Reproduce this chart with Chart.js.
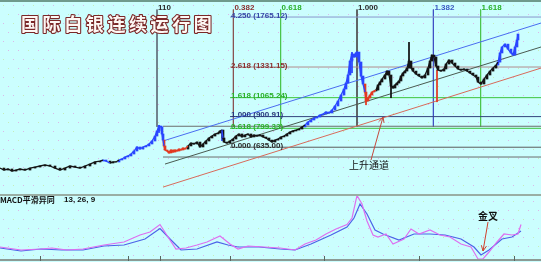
<!doctype html>
<html>
<head>
<meta charset="utf-8">
<title>国际白银连续运行图</title>
<script src="https://cdn.jsdelivr.net/npm/chart.js"></script>
<style>
  body { margin: 0; background: #cbfefe; }
  #wrap { position: relative; width: 541px; height: 262px; overflow: hidden; background: #cbfefe; }
  #main { position: absolute; left: 0; top: 0; }
  #macd { position: absolute; left: 0; top: 196px; }
  .rule { position: absolute; left: 0; width: 541px; }
</style>
</head>
<body>
<div id="wrap">
  <canvas id="main" width="541" height="194"></canvas>
  <div class="rule" style="top:0;height:2px;background:#6f9a8c"></div>
  <div class="rule" style="top:194px;height:2px;background:#9aaea4"></div>
  <canvas id="macd" width="541" height="66"></canvas>
</div>
<script>
// price series (bar index, close)
const barIndex = [0,4,8,12,16,20,25,30,35,40,45,50,55,60,65,70,75,80,85,90,95,100,103,106,110,113,116,119,122,125,128,131,134,137,140,143,146,149,152,155,157,159,161,162,163,164,165,167,169,171,173,175,177,179,181,183,185,188,191,194,197,200,203,206,209,212,215,218,220,222,223,224,227,230,233,236,239,242,245,248,251,254,257,260,263,266,269,272,275,278,281,284,287,290,293,296,299,302,305,308,311,314,317,320,323,326,329,332,335,338,341,344,346,348,350,352,354,356,357,359,361,363,365,366,368,370,372,374,376,378,380,382,385,387,389,391,393,395,397,399,401,403,405,407,409,411,413,416,419,422,425,428,430,432,434,436,438,441,444,446,449,452,455,458,461,464,467,470,473,476,478,481,484,487,490,493,496,498,500,502,505,508,511,513,515,517,518];
const closes = [454,437,446,428,437,446,437,454,463,472,481,472,454,437,454,472,463,454,472,489,507,515,524,515,498,507,507,524,533,550,559,576,602,637,619,637,646,663,689,732,776,819,811,750,697,646,611,602,585,611,593,611,602,619,611,628,619,646,671,663,680,637,663,689,715,732,750,758,776,784,715,680,671,689,706,732,750,724,741,750,724,741,732,741,724,715,697,680,697,706,724,732,750,767,776,784,793,811,828,854,871,888,897,915,923,941,932,958,993,1036,1088,1140,1192,1262,1383,1444,1418,1453,1461,1375,1253,1184,1114,1036,1062,1088,1114,1123,1131,1175,1201,1227,1262,1296,1262,1166,1149,1175,1192,1210,1253,1279,1296,1322,1383,1322,1296,1270,1253,1236,1262,1322,1383,1435,1418,1340,1305,1296,1314,1357,1392,1366,1340,1314,1305,1314,1296,1279,1262,1244,1201,1184,1227,1262,1296,1322,1348,1374,1453,1505,1530,1487,1453,1435,1505,1566,1618,1635];

// long shadows [bar, high, low, colour key]
const wicks = [[159,828,760,'b'],[222,784,690,'b'],[352,1461,1279,'b'],[366,1114,1001,'r'],[409,1548,1366,'k'],[437,1305,1027,'r'],[391,1166,1062,'k']];

// colour of the bars by run: [last bar of run, colour key]
const colourRuns = [[103,'k'],[108,'b'],[118,'k'],[164,'b'],[186,'r'],[221,'k'],[223,'b'],[305,'k'],[365,'b'],[376,'r'],[497,'k'],[541,'b']];
const barColours = { k: '#151515', b: '#2a46ff', r: '#e23a22' };

// fibonacci price levels
const fibRatios = ['4.250','2.618','1.618','1.000','0.618','0.000'];
const fibPrices = [1765.12,1331.15,1065.24,900.91,799.33,635.00];
const fibLineColours = ['#8896cc','#b08c8c','#3cc43c','#34447e','#3cc43c','#5c5c5c'];
const fibTextColours = ['#3646a6','#8a3030','#28b028','#26367e','#28b028','#2c2c2c'];

// fibonacci time zones
const timeStart = 157, timeSpan = 200, startLabel = '110';
const timeRatios = ['0.382','0.618','1.000','1.382','1.618'];
const timeLineColours = ['#64727e','#8a5252','#4cc44c','#505050','#4050c4','#4cc44c'];
const timeTextColours = ['#2c2c2c','#8a3030','#28b028','#2c2c2c','#3a5ac4','#28b028'];

// channel lines [start bar, start price, end bar, end price]
const upperChannel = [163, 689, 541, 1713];
const middleChannel = [165, 489, 541, 1505];
const lowerChannel = [163, 289, 541, 1322];
const boxLevels = [817, 550];

// MACD 13,26,9
const macdX = [0,21,41,52,67,83,104,124,140,150,160,168,176,186,197,207,220,230,238,248,264,280,295,305,316,326,336,347,352,357,362,367,373,378,386,393,404,411,419,430,440,450,461,471,478,483,489,497,504,512,518,521];
const macdLine = [2,-1,0,1,-1,0,4,7,14,17,24.5,12,0,1,4,7,13,5,0,3,2,1,-1,5,9,15,20,24.5,31,53.5,45,28,14,12,15,5,10,20,15,19,14,12,5,2,-10,-10,-3,7,15,14,15,24.5];
const signalX = [0,21,41,62,83,104,124,145,160,171,181,197,217,228,238,259,280,295,311,331,347,354,360,367,375,383,399,414,430,445,461,474,481,489,502,512,521];
const signalLine = [1,-2,0,-1,-1,3,4,10,20.4,9,-1,0,7,4,2,2,0,-1,5,14,22,31,45,35,19,15,9,15,15,14,10,2,-6,-1,10,12,18];
const dateTicks = [40,128,160,230,324,419,514];

function colourAt(bar) {
  for (const [last, key] of colourRuns) if (bar < last) return barColours[key];
  return barColours.k;
}

const priceData = barIndex.map((b, i) => ({ x: b, y: closes[i] }));
// candle bodies: previous close to close
const bodyData = barIndex.slice(1).map((b, i) => ({ x: b, y: [closes[i], closes[i + 1]] }));
const wickData = [];
wicks.forEach(w => { wickData.push({ x: w[0], y: w[1] }, { x: w[0], y: w[2] }, { x: w[0], y: null }); });

function seg(line) { return [{ x: line[0], y: line[1] }, { x: line[2], y: line[3] }]; }
function simple(data, colour, width) {
  return { type: 'line', data: data, borderColor: colour, borderWidth: width || 1, pointRadius: 0, fill: false, tension: 0 };
}

const datasets = [];
datasets.push(Object.assign(simple(priceData, '#151515', 1.3), {
  segment: { borderColor: c => colourAt(c.p0.parsed.x) }
}));
datasets.push({
  type: 'bar',
  data: bodyData,
  barThickness: 2,
  backgroundColor: bodyData.map(d => colourAt(d.x)),
  borderWidth: 0
});
datasets.push(Object.assign(simple(wickData, '#151515', 1), {
  spanGaps: false,
  segment: { borderColor: c => barColours[wicks.find(w => w[0] === c.p0.parsed.x)[3]] }
}));
datasets.push(simple(seg(upperChannel), '#4a6cf0'));
datasets.push(simple(seg(middleChannel), '#4a5a50'));
datasets.push(simple(seg(lowerChannel), '#d86a5a'));
boxLevels.forEach(p => datasets.push(simple([{ x: 163, y: p }, { x: 541, y: p }], '#6c6c6c')));
fibPrices.forEach((p, i) => datasets.push(simple([{ x: 230, y: p }, { x: 541, y: p }], fibLineColours[i])));
const timeBars = [timeStart].concat(timeRatios.map(r => timeStart + timeSpan * parseFloat(r)));
timeBars.forEach((b, i) => datasets.push(simple([{ x: b, y: 1830 }, { x: b, y: 812 }], timeLineColours[i])));

const backdrop = {
  id: 'backdrop',
  beforeDraw(chart) {
    const { ctx, width, height } = chart;
    ctx.save();
    ctx.fillStyle = '#cbfefe';
    ctx.fillRect(0, 0, width, height);
    let row = 0;
    for (let yy = 5; yy < height; yy += 9, row++) {
      for (let xx = 3 + (row % 2) * 5; xx < width; xx += 10) {
        ctx.fillStyle = (xx + row) % 3 ? '#dcb6ea' : '#c6ecb8';
        ctx.fillRect(xx, yy, 1, 1);
      }
    }
    ctx.restore();
  }
};

function arrow(ctx, x0, y0, x1, y1, colour) {
  const a = Math.atan2(y1 - y0, x1 - x0);
  ctx.strokeStyle = colour;
  ctx.lineWidth = 1;
  ctx.beginPath();
  ctx.moveTo(x0, y0);
  ctx.lineTo(x1, y1);
  ctx.moveTo(x1 - 6 * Math.cos(a - 0.45), y1 - 6 * Math.sin(a - 0.45));
  ctx.lineTo(x1, y1);
  ctx.lineTo(x1 - 6 * Math.cos(a + 0.45), y1 - 6 * Math.sin(a + 0.45));
  ctx.stroke();
}

const notes = {
  id: 'notes',
  afterDraw(chart) {
    const { ctx } = chart;
    const x = chart.scales.x, y = chart.scales.y;
    ctx.save();
    // title, hollow letters
    ctx.font = 'bold 18px "Noto Sans CJK SC"';
    ctx.textBaseline = 'middle';
    ctx.lineJoin = 'round';
    Array.from('国际白银连续运行图').forEach((ch, i) => {
      const tx = 21 + i * 21.6;
      ctx.lineWidth = 2.2;
      ctx.strokeStyle = '#7a2828';
      ctx.strokeText(ch, tx, 24);
      ctx.fillStyle = '#fdf8f4';
      ctx.fillText(ch, tx, 24);
    });
    // level labels
    ctx.font = 'bold 8px "Liberation Sans"';
    ctx.textBaseline = 'alphabetic';
    fibPrices.forEach((p, i) => {
      ctx.fillStyle = fibTextColours[i];
      ctx.fillText(fibRatios[i] + ' (' + p.toFixed(2) + ')', x.getPixelForValue(231), y.getPixelForValue(p) + 0.5);
    });
    [startLabel].concat(timeRatios).forEach((t, i) => {
      ctx.fillStyle = timeTextColours[i];
      ctx.fillText(t, x.getPixelForValue(timeBars[i]) + 1, 10);
    });
    // rising channel note
    ctx.font = '10px "Noto Sans CJK SC"';
    ctx.fillStyle = '#111';
    ctx.textBaseline = 'middle';
    ctx.fillText('上升通道', x.getPixelForValue(349), y.getPixelForValue(480));
    arrow(ctx, x.getPixelForValue(371), y.getPixelForValue(524), x.getPixelForValue(383), y.getPixelForValue(897), '#c4483c');
    ctx.restore();
  }
};

const common = {
  responsive: false,
  animation: false,
  devicePixelRatio: 1,
  layout: { padding: 0 },
  plugins: { legend: { display: false }, tooltip: { enabled: false } },
  elements: { point: { radius: 0 } }
};

new Chart(document.getElementById('main').getContext('2d'), {
  type: 'line',
  data: { datasets: datasets },
  options: Object.assign({}, common, {
    scales: {
      x: { type: 'linear', min: 0, max: 541, display: false, offset: false },
      y: { min: 229, max: 1913, display: false }
    }
  }),
  plugins: [backdrop, notes]
});

const macdNotes = {
  id: 'macdNotes',
  afterDraw(chart) {
    const { ctx } = chart;
    const x = chart.scales.x, y = chart.scales.y;
    ctx.save();
    ctx.fillStyle = '#111';
    ctx.textBaseline = 'middle';
    ctx.font = 'bold 8px "Noto Sans CJK SC"';
    ctx.fillText('MACD平滑异同', 0, 4);
    ctx.font = 'bold 8px "Liberation Sans"';
    ctx.fillText('13, 26, 9', 64, 4);
    ctx.font = 'bold 10px "Noto Sans CJK SC"';
    ctx.fillText('金叉', x.getPixelForValue(478), y.getPixelForValue(33));
    arrow(ctx, x.getPixelForValue(488), y.getPixelForValue(27), x.getPixelForValue(483), y.getPixelForValue(-2), '#d0402c');
    // time axis
    ctx.fillStyle = '#8c9a94';
    ctx.fillRect(0, 63, 541, 2);
    ctx.strokeStyle = '#5a6660';
    ctx.beginPath();
    dateTicks.forEach(t => {
      const px = Math.round(x.getPixelForValue(t)) + 0.5;
      ctx.moveTo(px, 60);
      ctx.lineTo(px, 65);
    });
    ctx.stroke();
    ctx.restore();
  }
};

new Chart(document.getElementById('macd').getContext('2d'), {
  type: 'line',
  data: {
    datasets: [
      Object.assign(simple(macdX.map((v, i) => ({ x: v, y: macdLine[i] })), '#de6ef0', 1.2), { clip: false }),
      Object.assign(simple(signalX.map((v, i) => ({ x: v, y: signalLine[i] })), '#4c62e8', 1.2), { clip: false })
    ]
  },
  options: Object.assign({}, common, {
    scales: {
      x: { type: 'linear', min: 0, max: 541, display: false },
      y: { min: -13, max: 53, display: false }
    }
  }),
  plugins: [backdrop, macdNotes]
});
</script>
</body>
</html>
